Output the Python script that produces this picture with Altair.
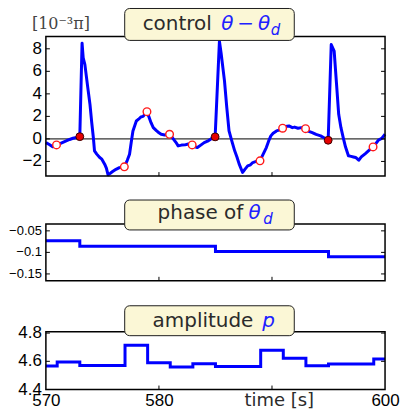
import altair as alt
import pandas as pd

# ---------------- data ----------------
ctrl_t = [570.0, 570.3, 570.6, 570.94, 571.3, 571.8, 572.1, 572.4, 572.7, 573.0,
          573.2, 573.3, 573.45, 573.7, 573.9, 574.05, 574.2, 574.3, 574.5, 574.76,
          574.95, 575.2, 575.35, 575.5, 575.7, 575.9, 576.2, 576.5, 576.94, 577.2,
          577.4, 577.55, 577.7, 578.0, 578.2, 578.4, 578.6, 578.94, 579.1, 579.3,
          579.5, 579.8, 580.0, 580.2, 580.5, 580.94, 581.2, 581.5, 581.7, 582.0,
          582.3, 582.6, 582.94, 583.2, 583.4, 583.7, 584.0, 584.3, 584.6, 584.97,
          585.35, 585.5, 585.8, 586.0, 586.2, 586.45, 586.7, 586.9, 587.1, 587.4,
          587.6, 587.85, 588.1, 588.3, 588.6, 588.94, 589.2, 589.5, 589.7, 589.9,
          590.1, 590.4, 590.7, 590.94, 591.2, 591.5, 591.8, 592.0, 592.3, 592.6,
          592.97, 593.2, 593.56, 593.9, 594.3, 594.6, 594.97, 595.24, 595.5, 595.7,
          595.9, 596.1, 596.3, 596.5, 596.76, 597.0, 597.2, 597.4, 597.67, 597.9,
          598.26, 598.6, 598.94, 599.2, 599.4, 599.7, 600.0]
ctrl_v = [-0.33, -0.5, -0.7, -0.53, -0.4, -0.18, -0.05, 0.06, 0.12, 0.2,
          8.5, 7.2, 6.6, 4.6, 3.07, 1.5, 0.1, -1.06, -1.35, -1.65,
          -1.8, -2.24, -2.6, -3.19, -3.05, -2.9, -2.7, -2.55, -2.48, -1.9,
          -1.36, -0.3, 0.71, 1.59, 1.75, 1.95, 2.0, 2.42, 2.0, 1.44,
          1.0, 0.71, 0.55, 0.41, 0.35, 0.41, 0.1, -0.3, -0.62, -0.55,
          -0.53, -0.45, -0.53, -0.7, -0.77, -0.55, -0.33, -0.2, 0.0, 0.18,
          8.67, 7.6, 5.13, 2.8, 0.71, -0.2, -1.06, -1.6, -2.24, -2.98,
          -2.7, -2.39, -2.3, -2.1, -2.0, -1.95, -1.4, -0.77, -0.2, 0.27,
          0.5, 0.71, 0.8, 0.95, 1.1, 1.15, 1.0, 1.05, 0.95, 1.0,
          0.91, 0.7, 0.56, 0.4, 0.27, 0.1, -0.12, 8.38, 7.79, 5.0,
          2.18, 1.0, 0.12, -0.7, -1.5, -1.55, -1.6, -1.65, -1.89, -1.6,
          -1.3, -1.0, -0.71, -0.4, -0.12, 0.05, 0.41]

open_t = [570.94, 576.94, 578.94, 580.94, 582.94, 588.94, 590.94, 592.97, 598.94]
open_v = [-0.53, -2.48, 2.42, 0.41, -0.53, -1.95, 0.95, 0.91, -0.71]
fill_t = [573.0, 584.97, 594.97]
fill_v = [0.2, 0.18, -0.12]

phase_t = [570, 573, 585, 595, 600]
phase_v = [-0.073, -0.086, -0.098, -0.110, -0.110]

amp_t = [570, 571, 573, 577, 579, 581, 583, 585, 589, 591, 593, 595, 599, 600]
amp_v = [4.567, 4.595, 4.571, 4.714, 4.590, 4.559, 4.583, 4.564, 4.679, 4.621,
         4.569, 4.581, 4.616, 4.616]

x_ticks = [570, 580, 590, 600]
x_inner_ticks = [580, 590]
y1_ticks = [-2, 0, 2, 4, 6, 8]
y1_labels = ["\u22122", "0", "2", "4", "6", "8"]
y2_ticks = [-0.15, -0.1, -0.05]
y2_labels = ["\u22120.15", "\u22120.1", "\u22120.05"]
y3_ticks = [4.4, 4.6, 4.8]
y3_labels = ["4.4", "4.6", "4.8"]

# ---------------- layout / style ----------------
W = 340
HT = 354                      # whole plotting column
R1 = [140, 0]                 # pixel band of each panel (bottom, top)
R2 = [245, 188]
R3 = [354, 296]
XD = [570, 600]
Y1D = [-3.3, 9.1]
Y2D = [-0.166, -0.034]
Y3D = [4.4, 4.81]
BLUE = "#0000ff"
TXT = "#2b2b2b"
TBLUE = "#2020ff"
BOXFILL = "#fbf7d6"
LABFONT = "Liberation Sans"
TFONT = "DejaVu Sans"

one = alt.Data(values=[{"a": 1}])

X_AXIS = alt.Axis(
    values=x_ticks, title=None, ticks=False, domain=False, grid=False,
    labelFont=LABFONT, labelFontSize=17, labelColor="black", labelPadding=3,
    labelFlush=False, labelOverlap=False,
    labelExpr="datum.value == 590 ? '' : datum.label")


def X(field):
    return alt.X(field, scale=alt.Scale(domain=XD, nice=False, zero=False), axis=X_AXIS)


def Y(field, yd, rng):
    return alt.Y(field, scale=alt.Scale(domain=yd, range=rng, nice=False, zero=False),
                 axis=None)


def panel_frame(yd, rng, yt, ylab, labsize):
    layers = []
    # frame
    fr = pd.DataFrame({"lo": [yd[0]], "hi": [yd[1]]})
    layers.append(alt.Chart(fr).mark_rect(fill="white", fillOpacity=0, stroke="black",
                                          strokeWidth=1.5).encode(
        y=Y("hi:Q", yd, rng), y2="lo:Q", x=alt.value(0), x2=alt.value(W)))
    # inner x ticks (bottom / top)
    dx = pd.DataFrame({"tx": x_inner_ticks, "lo": [yd[0]] * len(x_inner_ticks),
                       "hi": [yd[1]] * len(x_inner_ticks)})
    layers.append(alt.Chart(dx).mark_rule(color="black", strokeWidth=1, y2Offset=-4).encode(
        x=X("tx:Q"), y=Y("lo:Q", yd, rng), y2="lo:Q"))
    layers.append(alt.Chart(dx).mark_rule(color="black", strokeWidth=1, y2Offset=4).encode(
        x=X("tx:Q"), y=Y("hi:Q", yd, rng), y2="hi:Q"))
    # inner y ticks (left / right) and labels
    dy = pd.DataFrame({"ty": yt, "lab": ylab})
    layers.append(alt.Chart(dy).mark_rule(color="black", strokeWidth=1).encode(
        y=Y("ty:Q", yd, rng), x=alt.value(0), x2=alt.value(4)))
    layers.append(alt.Chart(dy).mark_rule(color="black", strokeWidth=1).encode(
        y=Y("ty:Q", yd, rng), x=alt.value(W - 4), x2=alt.value(W)))
    layers.append(alt.Chart(dy).mark_text(align="right", baseline="middle", font=LABFONT,
                                          fontSize=labsize, color="black").encode(
        y=Y("ty:Q", yd, rng), x=alt.value(-4), text="lab:N"))
    return layers


def title_box(y0, y1):
    return alt.Chart(one).mark_rect(
        fill=BOXFILL, stroke="#1e1e1e", strokeWidth=1, cornerRadius=5
    ).encode(x=alt.value(79), x2=alt.value(249), y=alt.value(y0), y2=alt.value(y1))


def txt(s, x, y, color=TXT, size=20, style="normal", font=TFONT, align="left"):
    return alt.Chart(one).mark_text(
        text=s, align=align, baseline="alphabetic", fontSize=size,
        fontStyle=style, font=font, color=color
    ).encode(x=alt.value(x), y=alt.value(y))


# ---------------- top panel ----------------
dctrl = pd.DataFrame({"t": ctrl_t, "v": ctrl_v})
dopen = pd.DataFrame({"t": open_t, "v": open_v})
dfill = pd.DataFrame({"t": fill_t, "v": fill_v})

zero = alt.Chart(pd.DataFrame({"z": [0]})).mark_rule(color="black", strokeWidth=1).encode(
    y=Y("z:Q", Y1D, R1), x=alt.value(0), x2=alt.value(W))
line1 = alt.Chart(dctrl).mark_line(color=BLUE, strokeWidth=3, strokeJoin="round").encode(
    x=X("t:Q"), y=Y("v:Q", Y1D, R1), order="t:Q")
opens = alt.Chart(dopen).mark_point(shape="circle", filled=True, fill="white",
                                    stroke="#ff1a1a", strokeWidth=1.4, size=58, opacity=1).encode(
    x=X("t:Q"), y=Y("v:Q", Y1D, R1))
fills = alt.Chart(dfill).mark_point(shape="circle", filled=True, fill="#e60000",
                                    stroke="#3a0000", strokeWidth=1, size=62, opacity=1).encode(
    x=X("t:Q"), y=Y("v:Q", Y1D, R1))

top_layers = [zero, line1, opens, fills] + panel_frame(Y1D, R1, y1_ticks, y1_labels, 17) + [
    title_box(-28, 4),
    txt("control", 97, -6),
    txt("θ\u2009−\u2009θ", 175.7, -6, color=TBLUE, style="italic"),
    txt("d", 225.5, -1, color=TBLUE, size=15, style="italic"),
    txt("[10⁻³π]", -14, -7, color="#444444", size=16, font="DejaVu Serif"),
]

# ---------------- middle panel ----------------
dph = pd.DataFrame({"t": phase_t, "v": phase_v})
line2 = alt.Chart(dph).mark_line(color=BLUE, strokeWidth=3, interpolate="step-after").encode(
    x=X("t:Q"), y=Y("v:Q", Y2D, R2), order="t:Q")
mid_layers = [line2] + panel_frame(Y2D, R2, y2_ticks, y2_labels, 13) + [
    title_box(164, 194),
    txt("phase of", 112, 183),
    txt("θ", 203, 183, color=TBLUE, style="italic"),
    txt("d", 218, 188, color=TBLUE, size=15, style="italic"),
]

# ---------------- bottom panel ----------------
dam = pd.DataFrame({"t": amp_t, "v": amp_v})
line3 = alt.Chart(dam).mark_line(color=BLUE, strokeWidth=3, interpolate="step-after").encode(
    x=X("t:Q"), y=Y("v:Q", Y3D, R3), order="t:Q")
bot_layers = [line3] + panel_frame(Y3D, R3, y3_ticks, y3_labels, 17) + [
    title_box(270, 300),
    txt("amplitude", 107, 291),
    txt("p", 217, 291, color=TBLUE, style="italic"),
    txt("time [s]", 234, HT + 16, size=18, align="center"),
]

chart = alt.layer(*(top_layers + mid_layers + bot_layers)).resolve_scale(
    y="independent"
).properties(
    width=W, height=HT,
    padding={"left": 9, "top": 7, "right": 3, "bottom": 3},
).configure_view(stroke="transparent")

chart.save("out.html", embed_options={"renderer": "svg", "actions": False})
